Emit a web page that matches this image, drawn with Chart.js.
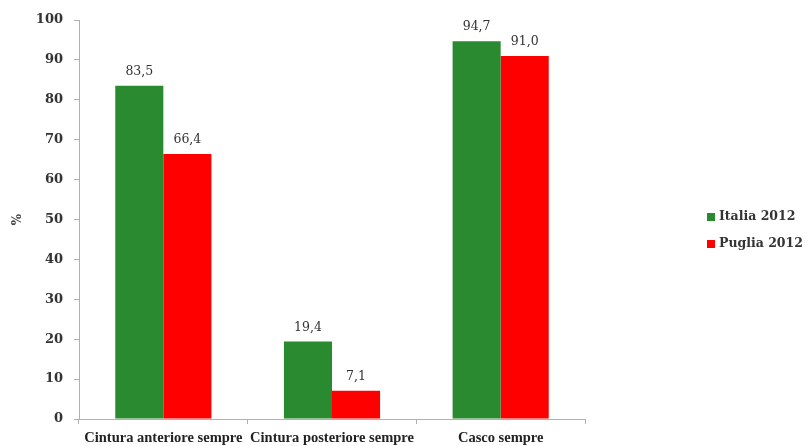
<!DOCTYPE html>
<html>
<head>
<meta charset="utf-8">
<script src="https://cdn.jsdelivr.net/npm/chart.js@4.4.1/dist/chart.umd.min.js"></script>
<style>
  html, body { margin: 0; padding: 0; background: #fff; }
  #wrap { width: 810px; height: 446px; position: relative; }
</style>
</head>
<body>
<div id="wrap"><canvas id="myChart"></canvas></div>
<script>
const categories = ['Cintura anteriore sempre', 'Cintura posteriore sempre', 'Casco sempre'];
const italia2012 = [83.5, 19.4, 94.7];
const puglia2012 = [66.4, 7.1, 91.0];
const yTicks = [0, 10, 20, 30, 40, 50, 60, 70, 80, 90, 100];

const seriesNames = ['Italia 2012', 'Puglia 2012'];
const seriesColors = ['#2a8a2f', '#ff0000'];
const serif = "'Liberation Serif', serif";
const wideSerif = "'DejaVu Serif', serif";

// writes each bar's value above it, with a decimal comma
const valueLabels = {
    id: 'valueLabels',
    afterDatasetsDraw(chart) {
        const ctx = chart.ctx;
        ctx.save();
        ctx.font = '12.5px ' + wideSerif;
        ctx.fillStyle = '#333';
        ctx.textAlign = 'center';
        ctx.textBaseline = 'alphabetic';
        chart.data.datasets.forEach((ds, i) => {
            chart.getDatasetMeta(i).data.forEach((bar, j) => {
                const text = ds.data[j].toFixed(1).replace('.', ',');
                ctx.fillText(text, bar.x, bar.y - 11);
            });
        });
        ctx.restore();
    }
};

// legend block on the right
const sideLegend = {
    id: 'sideLegend',
    afterDraw(chart) {
        const ctx = chart.ctx;
        ctx.save();
        ctx.font = 'bold 12.5px ' + wideSerif;
        ctx.textBaseline = 'middle';
        seriesNames.forEach((name, i) => {
            const y = 217 + i * 27;
            ctx.fillStyle = seriesColors[i];
            ctx.fillRect(707, y - 4, 8, 8);
            ctx.fillStyle = '#333';
            ctx.fillText(name, 719, y);
        });
        ctx.restore();
    }
};

const config = {
    type: 'bar',
    data: {
        labels: categories,
        datasets: [
            { label: seriesNames[0], data: italia2012, backgroundColor: seriesColors[0] },
            { label: seriesNames[1], data: puglia2012, backgroundColor: seriesColors[1] }
        ]
    },
    options: {
        responsive: true,
        maintainAspectRatio: false,
        animation: false,
        layout: { padding: { top: 20, right: 225, left: 0, bottom: 0 } },
        plugins: {
            legend: { display: false },
            tooltip: { enabled: false }
        },
        datasets: {
            bar: { categoryPercentage: 0.57, barPercentage: 1.0 }
        },
        scales: {
            x: {
                offset: true,
                grid: {
                    offset: true,
                    drawOnChartArea: false,
                    drawTicks: true,
                    tickLength: 5,
                    color: '#b0b0b0'
                },
                border: { color: '#b0b0b0', width: 1 },
                ticks: {
                    color: '#222',
                    padding: 6,
                    font: { family: serif, size: 14.5, weight: 'bold' },
                    maxRotation: 0,
                    autoSkip: false
                },
                afterFit(scale) { scale.height = 27; }
            },
            y: {
                min: 0,
                max: 100,
                afterBuildTicks(scale) { scale.ticks = yTicks.map(v => ({ value: v })); },
                grid: {
                    drawOnChartArea: false,
                    drawTicks: true,
                    tickLength: 5,
                    color: '#b0b0b0'
                },
                border: { color: '#b0b0b0', width: 1 },
                ticks: {
                    color: '#333',
                    padding: 11,
                    font: { family: wideSerif, size: 13, weight: 'bold' }
                },
                title: {
                    display: true,
                    text: '%',
                    color: '#444',
                    font: { family: wideSerif, size: 12, weight: 'bold' },
                    padding: { top: 11, bottom: 0 }
                },
                afterFit(scale) { scale.width = 79; }
            }
        }
    },
    plugins: [valueLabels, sideLegend]
};

new Chart(document.getElementById('myChart').getContext('2d'), config);
</script>
</body>
</html>
